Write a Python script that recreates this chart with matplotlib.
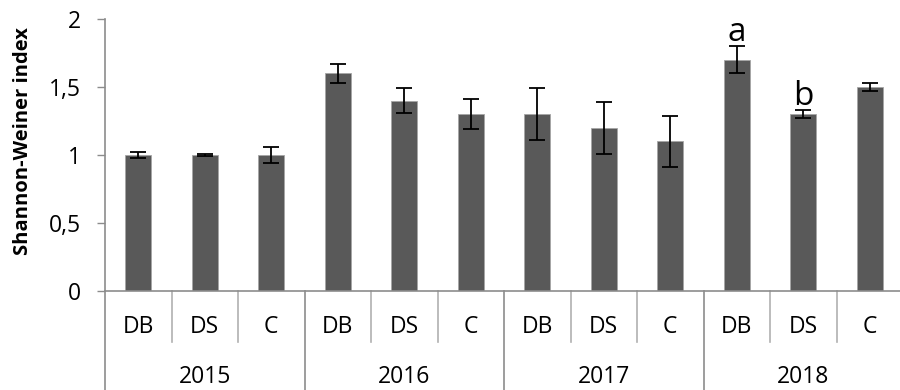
import matplotlib.pyplot as plt
import matplotlib.transforms as mtransforms

plt.rcParams['font.family'] = ['Open Sans', 'DejaVu Sans']

years = ['2015', '2016', '2017', '2018']
treatments = ['DB', 'DS', 'C']
shannon = [1.00, 1.00, 1.00, 1.60, 1.40, 1.30, 1.30, 1.20, 1.10, 1.70, 1.30, 1.50]
errors = [0.02, 0.01, 0.06, 0.07, 0.09, 0.11, 0.19, 0.19, 0.19, 0.10, 0.03, 0.03]
letters = {9: 'a', 10: 'b'}

grey_axis = '#8c8c8c'
grey_sep = '#b0b0b0'

fig = plt.figure(figsize=(9, 3.9), dpi=100)
ax = fig.add_axes([0.1167, 0.2538, 0.8867, 0.6974])

x = list(range(len(shannon)))
ax.bar(x, shannon, width=0.39, color='#595959', edgecolor='#a6a6a6', linewidth=0.6, zorder=2)
ax.errorbar(x, shannon, yerr=errors, fmt='none', ecolor='black', elinewidth=1.3,
            capsize=6, capthick=1.3, zorder=3)

for i, txt in letters.items():
    ax.text(i, shannon[i] + errors[i] - 0.02, txt, ha='center', va='bottom', fontsize=24)

ax.set_xlim(-0.5, len(shannon) - 0.5)
ax.set_ylim(0, 2)
ax.set_yticks([0, 0.5, 1, 1.5, 2])
ax.set_yticklabels(['0', '0,5', '1', '1,5', '2'])
ax.tick_params(axis='y', direction='out', length=6, width=1, color=grey_axis,
               labelsize=16.5, pad=11)
ax.set_xticks([])

for side in ['top', 'right']:
    ax.spines[side].set_visible(False)
for side in ['left', 'bottom']:
    ax.spines[side].set_color(grey_axis)
    ax.spines[side].set_linewidth(1.2)

ax.set_ylabel('Shannon-Weiner index', fontsize=14.5, fontweight='bold', va='center')
ax.yaxis.set_label_coords(-0.103, 0.553)

# two-level category axis: treatments under each bar, years below
trans = mtransforms.blended_transform_factory(ax.transData, ax.transAxes)
n_t = len(treatments)
for k in range(len(shannon) + 1):
    b = k - 0.5
    bottom = -0.42 if k % n_t == 0 else -0.1875
    color = grey_axis if k % n_t == 0 else grey_sep
    ax.plot([b, b], [0, bottom], transform=trans, color=color, lw=1.2, clip_on=False)

for i in x:
    ax.text(i, -0.132, treatments[i % n_t], transform=trans, ha='center', va='center',
            fontsize=16.5)
for j, yr in enumerate(years):
    ax.text(j * n_t + 1, -0.316, yr, transform=trans, ha='center', va='center',
            fontsize=16.5)

fig.savefig('out.png', dpi=100)
